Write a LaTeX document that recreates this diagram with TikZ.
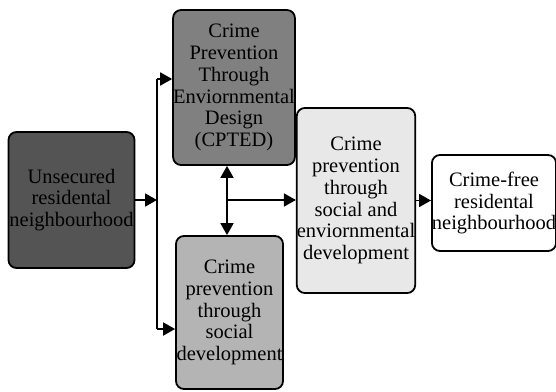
\documentclass[tikz,border=0pt]{standalone}
\usepackage{fontspec}
\setmainfont{Liberation Serif}
\usetikzlibrary{arrows.meta}
\definecolor{cA}{RGB}{84,84,84}
\definecolor{cB}{RGB}{128,128,128}
\definecolor{cC}{RGB}{180,180,180}
\definecolor{cD}{RGB}{232,232,232}
\tikzset{
  boxstyle/.style={draw=black, line width=1.8pt, rounded corners=8pt, inner sep=0pt,
    align=center, font=\fontsize{20.5}{21.8}\selectfont},
  arr/.style={line width=1.8pt, -{Triangle[length=12pt,width=13pt]}},
  darr/.style={line width=1.8pt, {Triangle[length=12pt,width=13pt]}-{Triangle[length=12pt,width=13pt]}},
  plain/.style={line width=1.8pt}
}
\begin{document}
\begin{tikzpicture}[x=1pt,y=-1pt]
\useasboundingbox (0,0) rectangle (556,391);
\node[boxstyle, fill=cA, minimum width=126pt, minimum height=136pt] (b1) at (71.5,200) {Unsecured\\residental\\neighbourhood};
\node[boxstyle, fill=cB, minimum width=120pt, minimum height=155pt] (b2) at (234,87.5) {Crime\\Prevention\\Through\\Enviornmental\\Design\\(CPTED)};
\node[boxstyle, fill=cC, minimum width=107pt, minimum height=153pt] (b3) at (229.5,312.5) {Crime\\prevention\\through\\social\\development};
\node[boxstyle, fill=cD, minimum width=118pt, minimum height=185pt] (b4) at (356,200.5) {Crime\\prevention\\through\\social and\\enviornmental\\development};
\node[boxstyle, fill=white, minimum width=121pt, minimum height=96pt] (b5) at (494,203) {Crime-free\\residental\\neighbourhood};
\coordinate (jt) at (157,79);
\coordinate (jb) at (157,329);
\coordinate (jm) at (227,200);
\draw[plain] (jt) -- (jb);
\draw[arr] (b1.east) -- (b1.east -| jt);
\draw[arr] (jt) -- (jt -| b2.west);
\draw[arr] (jb) -- (jb -| b3.west);
\draw[darr] (jm |- b2.south) -- (jm |- b3.north);
\draw[arr] (jm) -- (jm -| b4.west);
\draw[arr] (b4.east) -- (b4.east -| b5.west);
\end{tikzpicture}
\end{document}
